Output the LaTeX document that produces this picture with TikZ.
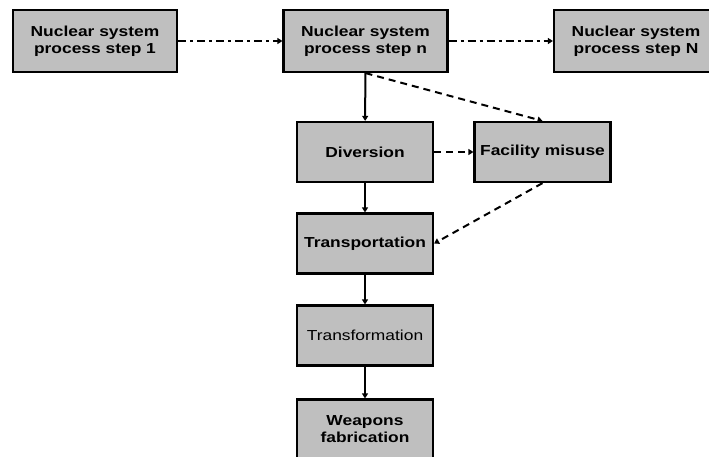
\documentclass[tikz,border=0pt]{standalone}
\usepackage{fontspec}
\setmainfont{Liberation Sans}[FakeStretch=1.2]
\usetikzlibrary{arrows.meta}
\begin{document}
\begin{tikzpicture}[x=1pt,y=-1pt,
  box/.style={draw=black, line width=2.2pt, fill=black!25, align=center, inner sep=0pt,
    font=\fontsize{14.5}{17}\selectfont\bfseries},
  wide/.style={box, minimum width=164pt, minimum height=62pt},
  mid/.style={box, minimum width=136pt, minimum height=60pt},
  arr/.style={line width=2pt, -{Triangle[length=5pt,width=6pt]}},
  dashdot arr/.style={arr, dash pattern=on 8pt off 4pt on 3pt off 4pt},
  dash arr/.style={arr, dash pattern=on 7pt off 5pt}]
\useasboundingbox (0,0) rectangle (709,456);
\clip (0,0) rectangle (709,456);
\node[wide] (s1) at (95,41) {Nuclear system\\process step 1};
\node[wide] (sn) at (365.5,41) {Nuclear system\\process step n};
\node[wide] (sN) at (636,41) {Nuclear system\\process step N};
\node[mid] (div) at (365,152) {Diversion};
\node[mid] (fac) at (542.5,152) {Facility misuse};
\node[mid] (tra) at (365,243.5) {Transportation};
\node[mid, font=\fontsize{14.5}{17}\selectfont] (trf) at (365,335.5) {Transformation};
\node[mid] (wea) at (365,429.5) {Weapons\\fabrication};
\draw[dashdot arr] (s1) -- (sn);
\draw[dashdot arr] (sn) -- (sN);
\draw[arr] (sn) -- (div);
\draw[dash arr] (sn.south) -- (fac.north);
\draw[dash arr] (div) -- (fac);
\draw[dash arr] (fac.south) -- (tra.east);
\draw[arr] (div) -- (tra);
\draw[arr] (tra) -- (trf);
\draw[arr] (trf) -- (wea);
\end{tikzpicture}
\end{document}
